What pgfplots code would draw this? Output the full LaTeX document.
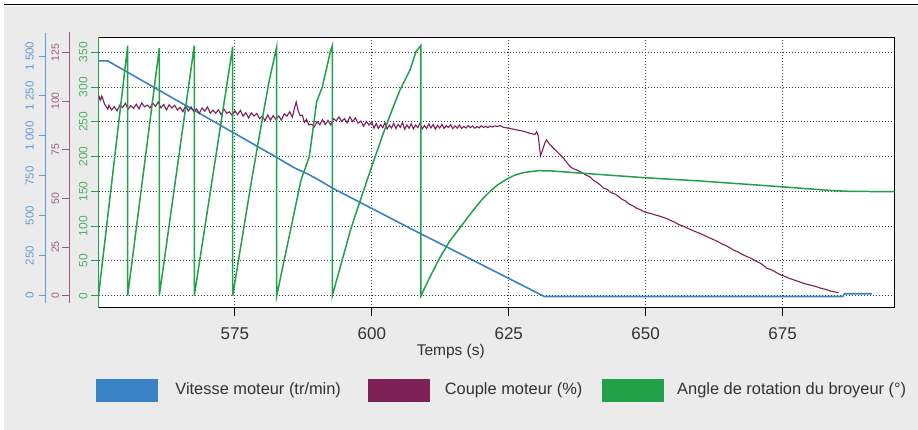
\documentclass[border=0pt]{standalone}
\usepackage{fontspec}
\setmainfont{Liberation Sans}
\usepackage{pgfplots}
\usepackage{pgfplotstable}
\pgfplotsset{compat=1.18}
\definecolor{cblue}{RGB}{58,130,198}
\definecolor{cbluel}{RGB}{95,155,215}
\definecolor{cpurp}{RGB}{126,32,88}
\definecolor{cpurpl}{RGB}{158,88,132}
\definecolor{cgreen}{RGB}{35,160,74}
\definecolor{cgreenl}{RGB}{80,175,100}
\definecolor{panel}{RGB}{235,235,235}
\definecolor{txt}{RGB}{50,50,50}

\pgfplotstableread{
t v
550.1 1469
551.8 1469
582.6 866
585.7 803
586.5 790
588.4 760
590.0 730
592.9 672
607.6 411
631.5 -5
686.0 -5
686.3 12
691.3 12
}\bluedata

\pgfplotstableread{
t v
550.1 100.0
550.3 102.0
550.5 100.5
550.7 102.5
550.9 101.0
551.2 98.5
551.5 97.0
551.8 95.8
552.0 97.8
552.5 95.4
553.0 97.0
553.5 94.9
554.0 97.9
554.5 96.6
555.0 98.8
555.5 95.8
556.0 97.6
556.5 96.2
557.0 98.3
557.5 95.9
558.0 99.0
558.5 97.0
559.0 97.9
559.5 96.4
560.0 99.0
560.5 97.2
561.0 99.5
561.5 96.5
562.0 98.2
562.5 95.4
563.0 98.0
563.5 96.4
564.0 97.8
564.5 95.4
565.0 96.7
565.5 94.5
566.0 97.5
566.5 94.9
567.0 96.9
567.5 94.5
568.0 95.9
568.5 93.6
569.0 96.4
569.5 94.8
570.0 96.9
570.5 93.7
571.0 95.3
571.5 93.7
572.0 95.5
572.5 92.9
573.0 95.9
573.5 93.7
574.0 94.4
574.5 92.6
575.0 95.0
575.5 92.9
576.0 95.2
576.5 92.2
577.0 94.0
577.5 91.2
578.0 93.9
578.5 92.2
579.0 93.6
579.5 91.0
580.0 92.2
580.5 89.9
581.0 92.8
581.5 90.2
582.0 92.5
582.5 90.5
583.0 92.3
583.5 90.2
584.0 93.4
584.5 92.2
585.0 94.5
585.5 91.7
585.9 96.5
586.2 99.5
586.5 95.5
586.9 92.5
587.3 92.7
587.7 89.0
588.1 90.6
588.5 87.7
589.0 88.0
589.5 86.7
590.0 89.4
590.5 87.8
591.0 90.4
591.5 87.9
592.0 90.0
592.5 87.7
593.0 90.9
593.5 89.8
594.0 91.8
594.5 89.6
595.0 90.9
595.5 88.8
596.0 91.9
596.5 89.4
597.0 91.3
597.5 88.6
598.0 89.7
598.5 87.0
599.0 89.5
599.5 87.6
600.0 89.3
600.4 86.0
600.8 88.4
601.2 85.9
601.6 87.9
602.0 86.3
602.4 88.8
602.8 85.6
603.2 87.6
603.6 86.1
604.0 88.5
604.4 85.8
604.8 88.0
605.2 86.4
605.6 88.9
606.0 85.5
606.4 87.7
606.8 86.0
607.2 88.3
607.6 85.7
608.0 87.6
608.4 86.3
608.8 88.6
609.2 85.6
609.6 87.4
610.0 85.9
610.4 88.2
610.8 86.2
611.2 87.9
611.6 85.5
612.0 87.5
612.4 86.1
612.8 88.0
613.2 85.9
613.6 87.3
614.0 86.4
614.4 87.8
614.8 85.8
615.2 87.2
615.6 86.0
616.0 87.6
616.4 85.9
616.8 87.0
617.2 86.1
617.6 87.4
618.0 86.3
618.4 87.2
618.8 86.0
619.2 86.9
619.6 86.2
620.0 87.3
620.4 86.4
620.8 87.0
621.2 86.3
621.6 87.1
622.0 86.6
622.5 87.2
623.0 86.9
623.4 87.4
624.0 86.5
625.0 86.0
626.5 85.1
627.5 84.6
628.9 83.4
629.8 82.8
630.1 84.2
630.4 82.0
630.8 71.8
631.2 75.0
631.6 78.5
631.9 80.0
632.4 78.0
633.0 76.2
633.8 74.0
634.5 72.0
635.0 70.6
635.6 68.4
636.2 66.3
636.8 65.2
637.4 64.6
638.0 63.8
638.6 62.9
639.2 61.8
639.8 61.1
640.5 59.2
641.0 58.4
641.7 56.9
642.3 55.3
643.0 54.6
643.6 53.0
644.3 52.4
645.0 51.1
645.6 49.6
646.3 48.7
647.0 47.0
647.6 46.3
648.3 45.0
649.0 44.2
649.7 43.1
650.3 42.6
651.0 42.2
651.7 41.5
652.4 41.0
653.0 40.4
653.8 39.7
654.5 38.7
655.2 37.9
656.0 36.6
656.7 35.9
657.5 34.8
658.2 34.0
659.0 33.0
659.9 32.0
660.7 31.0
661.5 29.9
662.3 28.9
663.1 27.9
664.0 26.5
664.8 25.5
665.5 24.4
666.0 23.5
666.8 22.5
667.6 21.3
668.4 20.2
669.2 19.3
670.0 18.0
670.8 16.9
671.5 15.6
672.1 14.1
672.9 13.4
673.8 12.0
674.7 10.6
675.5 9.8
676.4 8.7
677.3 7.9
678.2 7.0
679.0 6.2
680.0 5.5
681.2 4.6
682.0 3.8
682.8 3.3
683.6 2.5
684.4 2.0
685.2 1.5
}\purpdata

\pgfplotstableread{
t v
550.1 0
555.43 359.5
555.43 0
561.20 355.8
561.20 0
567.59 359.5
567.59 0
574.60 358
574.60 0
578.07 166.8
580.32 268
581.23 307.7
582.64 358
582.64 0
587.07 166
588.59 200
589.94 279
590.96 300
592.50 353
592.79 359.5
592.79 0
596.15 95.5
597.72 133
599.98 185.5
602.10 233.5
603.82 269.5
605.15 295.8
606.97 324.6
608.07 351
608.98 360
608.98 0
610.62 27
612.45 55
614.27 79
615.79 94.5
618.53 123
620.2 139
621.58 150
623.0 159.5
624.63 167.5
626.0 173
627.66 177
630.40 179.8
633.0 179.3
638.6 176.0
649.75 169.7
659.9 165
674.71 156.7
684.26 151
687.3 150.1
695.4 149.5
}\greendata

\begin{document}
\begin{tikzpicture}[x=1pt,y=1pt]
\fill[white] (0,0) rectangle (918,430);
\fill[panel] (3.5,0) rectangle (918,424.3);
\draw[black, line width=1.3pt] (4,425.2) -- (918,425.2);

\pgfplotsset{
  base/.style={scale only axis, width=795.8pt, height=270.3pt,
    at={(98.5pt,122.2pt)}, anchor=south west, xmin=550.1, xmax=695.4},
}

% frame, grid, x axis, legend
\begin{axis}[base, ymin=-17.4, ymax=371.3,
  axis background/.style={fill=white},
  axis line style={black, line width=1.1pt},
  xtick={575,600,625,650,675}, xticklabels={575,600,625,650,675},
  xtick pos=bottom, tick align=outside, major tick length=8pt,
  xtick style={black, line width=1pt},
  ytick={0,50,...,350}, yticklabels={}, ytick style={draw=none},
  grid=major, grid style={black!75, line width=0.9pt, dash pattern=on 1pt off 2pt},
  xticklabel style={font=\fontsize{17}{17}\selectfont, text=txt, anchor=base, inner sep=0pt, yshift=-23.5pt},
  every axis x label/.style={at={(axis description cs:0.4427,0)}, anchor=base, yshift=-48.2pt, font=\fontsize{15.5}{15.5}\selectfont, text=txt},
  xlabel={Temps (s)},
  legend columns=3, legend cell align=left,
  legend style={draw=none, fill=none, inner sep=0pt, outer sep=0pt, column sep=0pt, row sep=0pt,
    nodes={inner sep=0pt, font=\fontsize{16.4}{16.4}\selectfont, text=txt},
    at={(axis description cs:-0.00314,-0.3474)}, anchor=south west},
]
\addlegendimage{legend image code/.code={\fill[cblue] (0pt,-11.7pt) rectangle (61pt,10.7pt); \path (79pt,0pt);}}
\addlegendentry{\makebox[193pt][l]{Vitesse moteur (tr/min)}}
\addlegendimage{legend image code/.code={\fill[cpurp] (0pt,-11.7pt) rectangle (61pt,10.7pt); \path (76pt,0pt);}}
\addlegendentry{\makebox[157pt][l]{Couple moteur (\%)}}
\addlegendimage{legend image code/.code={\fill[cgreen] (0pt,-11.7pt) rectangle (61pt,10.7pt); \path (75pt,0pt);}}
\addlegendentry{\makebox[232pt][l]{Angle de rotation du broyeur (°)}}
\end{axis}

% blue data
\begin{axis}[base, ymin=-75.7, ymax=1615.8, hide axis]
\addplot[cblue, line width=1.6pt] table[x=t, y=v] {\bluedata};
\end{axis}

% purple data
\begin{axis}[base, ymin=-6.21, ymax=132.6, hide axis]
\addplot[cpurp, line width=1.1pt] table[x=t, y=v] {\purpdata};
\end{axis}

% green data and green y axis
\begin{axis}[base, ymin=-17.4, ymax=371.3,
  axis x line=none, axis y line*=left,
  y axis line style={cgreen, line width=1.3pt},
  ytick={0,50,...,350}, yticklabels={\mbox{0},\mbox{50},\mbox{100},\mbox{150},\mbox{200},\mbox{250},\mbox{300},\mbox{350}},
  tick align=outside, major tick length=7.5pt,
  ytick style={cgreen, line width=1pt},
  yticklabel style={font=\fontsize{12}{12}\selectfont, text=cgreenl, inner sep=0pt, xshift=-3.3pt, rotate=90, anchor=south},
]
\addplot[cgreen, line width=1.5pt] table[x=t, y=v] {\greendata};
\end{axis}

% purple offset axis
\begin{axis}[scale only axis, width=10pt, height=271.6pt, at={(69.3pt,126.7pt)}, anchor=south west,
  xmin=0, xmax=1, ymin=-3.9, ymax=135.6,
  axis x line=none, axis y line*=left,
  y axis line style={cpurpl, line width=1.3pt},
  ytick={0,25,...,125}, yticklabels={\mbox{0},\mbox{25},\mbox{50},\mbox{75},\mbox{100},\mbox{125}},
  tick align=outside, major tick length=7pt,
  ytick style={cpurpl, line width=1pt},
  yticklabel style={font=\fontsize{10.5}{10.5}\selectfont, text=cpurpl, inner sep=0pt, xshift=-3pt, rotate=90, anchor=south},
]
\end{axis}

% blue offset axis
\begin{axis}[scale only axis, width=10pt, height=270.3pt, at={(45.7pt,126.7pt)}, anchor=south west,
  xmin=0, xmax=1, ymin=-47.6, ymax=1644,
  axis x line=none, axis y line*=left,
  y axis line style={cbluel, line width=1.3pt},
  ytick={0,250,...,1500}, yticklabels={\mbox{0},\mbox{250},\mbox{500},\mbox{750},\mbox{1 000},\mbox{1 250},\mbox{1 500}},
  tick align=outside, major tick length=7pt,
  ytick style={cbluel, line width=1pt},
  yticklabel style={font=\fontsize{11.5}{11.5}\selectfont, text=cbluel, inner sep=0pt, xshift=-4.7pt, rotate=90, anchor=south},
]
\end{axis}

\pgfresetboundingbox
\path (0,0) rectangle (918,430);
\end{tikzpicture}
\end{document}
